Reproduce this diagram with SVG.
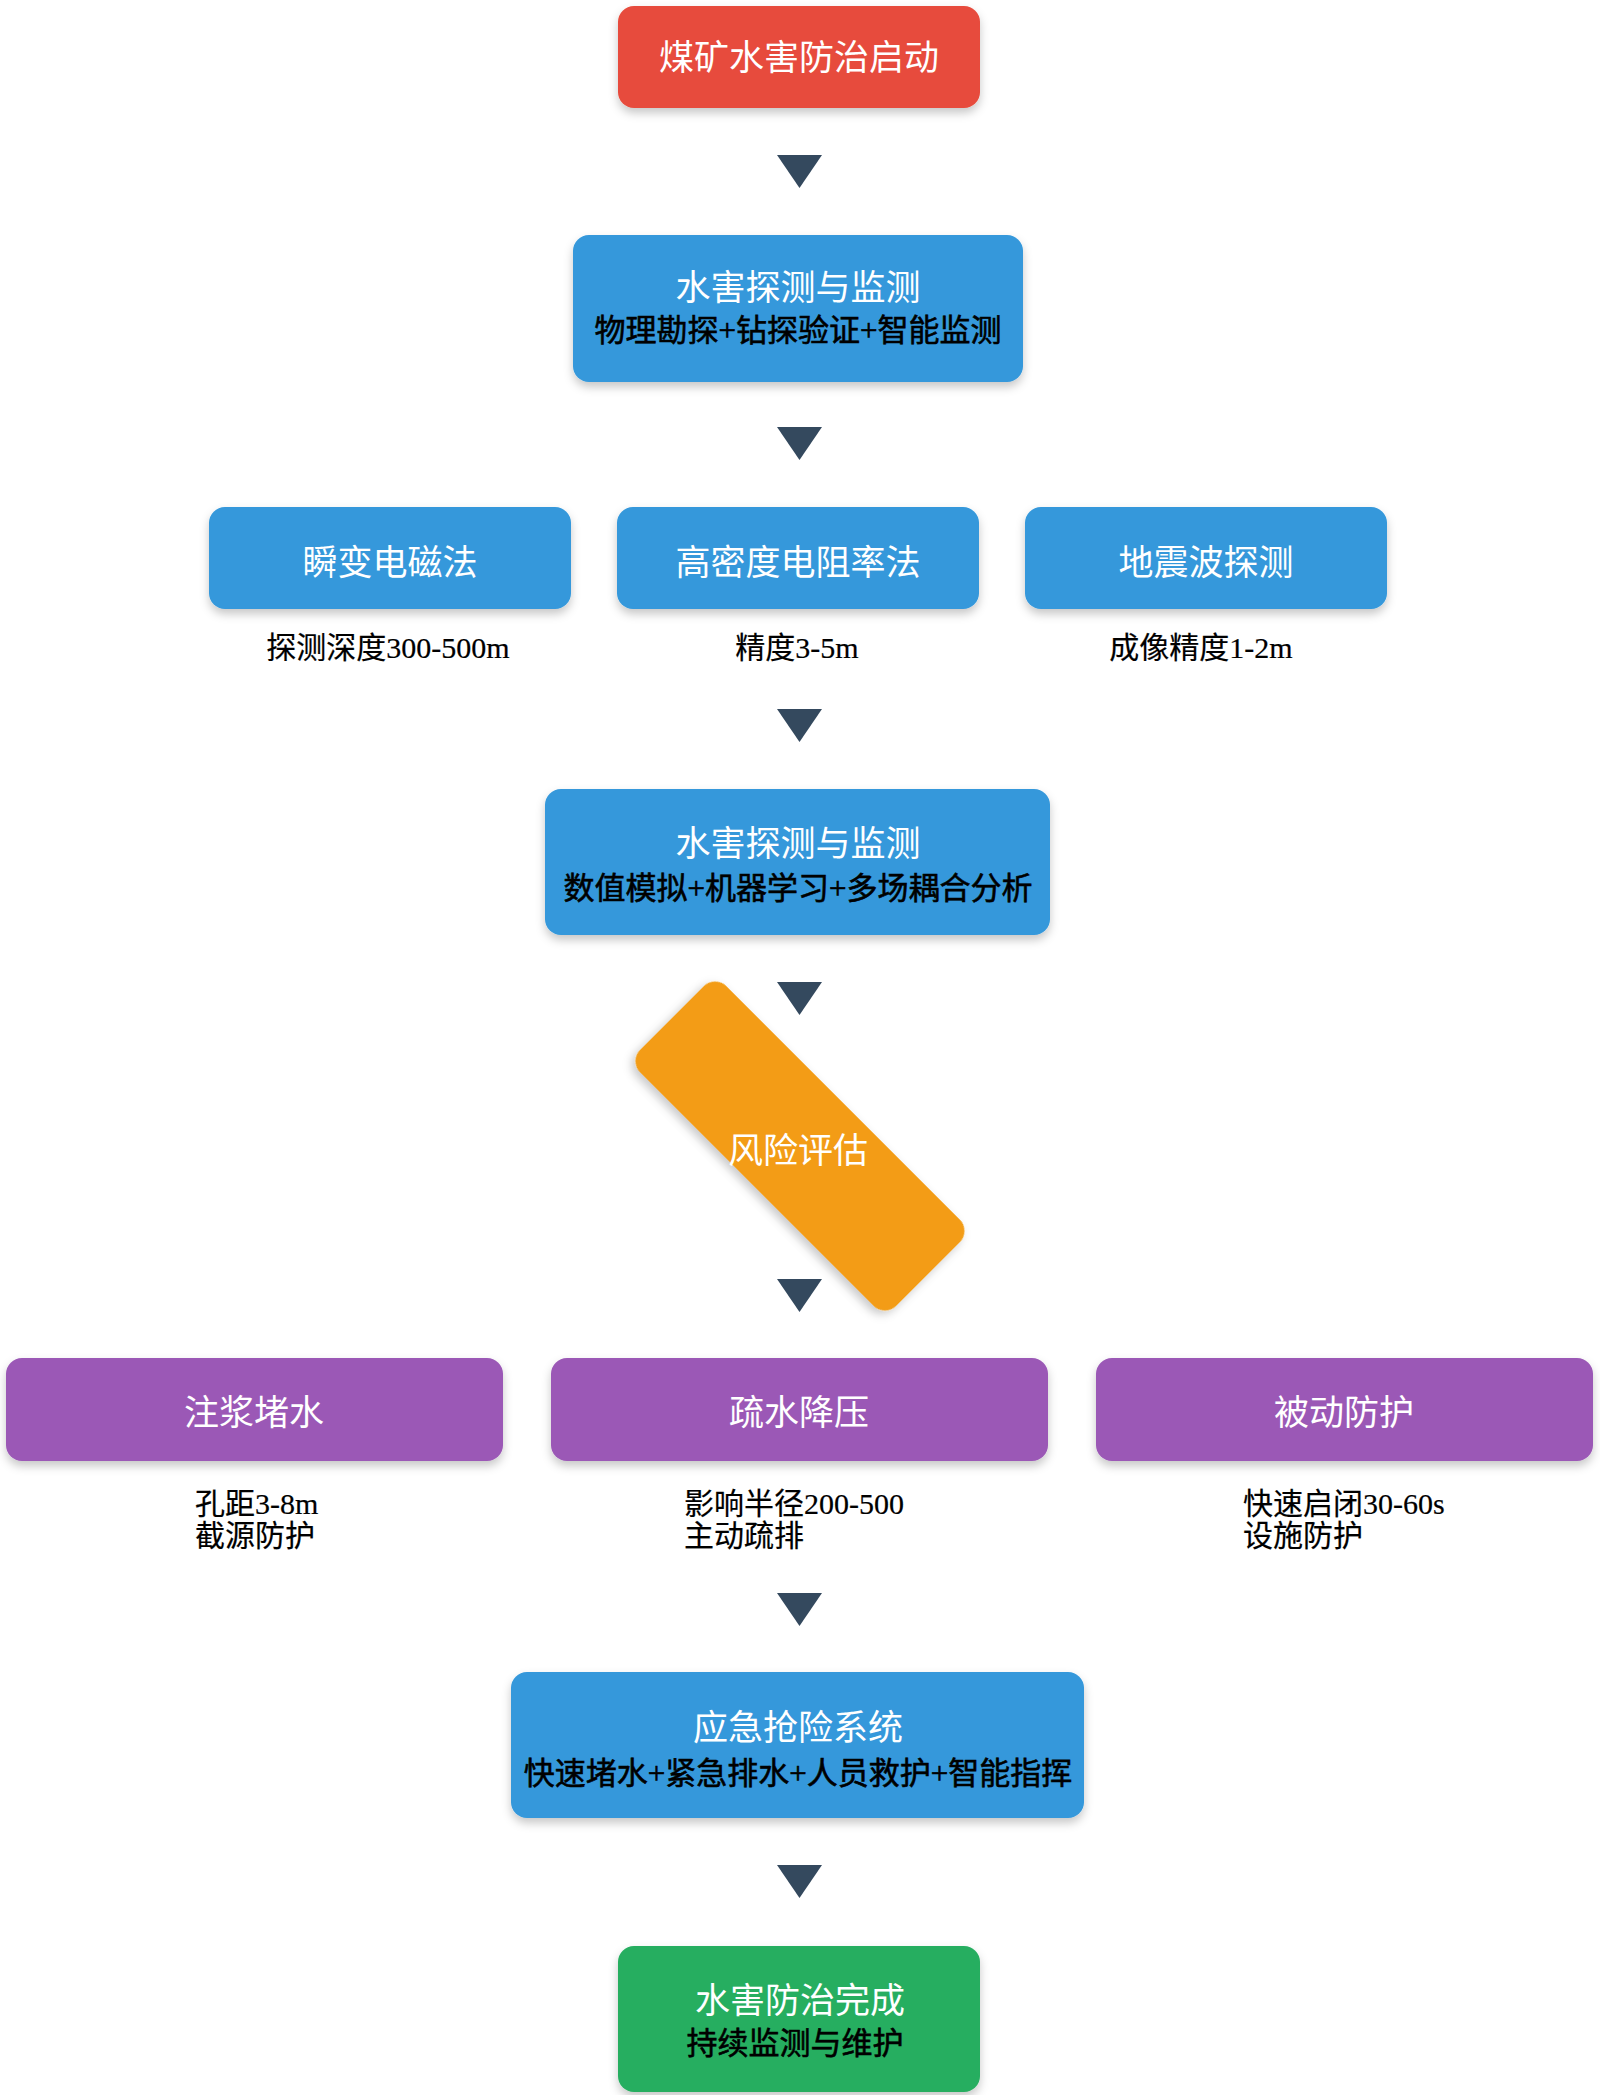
<svg xmlns="http://www.w3.org/2000/svg" width="1600" height="2095" viewBox="0 0 1600 2095">
<defs>
<filter id="sh" x="-10%" y="-20%" width="120%" height="150%">
<feDropShadow dx="0" dy="5" stdDeviation="5" flood-color="#000" flood-opacity="0.22"/>
</filter>
<style>
.red{fill:#e74c3c}
.blue{fill:#3498db}
.orange{fill:#f39c12}
.purple{fill:#9b59b6}
.green{fill:#27ae60}
.t{font-family:"Noto Sans CJK SC","Noto Sans",sans-serif;font-size:35px;fill:#ffffff;text-anchor:middle}
.s{font-family:"Liberation Serif","Noto Sans CJK SC",serif;font-size:31px;fill:#000000;text-anchor:middle;stroke:#000000;stroke-width:0.6px}
.l{font-family:"Liberation Serif","Noto Sans CJK SC",serif;font-size:30px;fill:#000000;stroke:#000000;stroke-width:0.2px}
.lc{text-anchor:middle}
.arr{fill:#34495e}
</style>
</defs>
<rect width="1600" height="2095" fill="#ffffff"/>

<g id="start">
<rect class="red" x="618" y="6" width="362" height="102" rx="16" filter="url(#sh)"/>
<text class="t" x="799" y="70">煤矿水害防治启动</text>
</g>

<g id="detect">
<rect class="blue" x="573" y="235" width="450" height="147" rx="16" filter="url(#sh)"/>
<text class="t" x="798" y="300">水害探测与监测</text>
<text class="s" x="798" y="341">物理勘探+钻探验证+智能监测</text>
</g>

<g id="tem">
<rect class="blue" x="209" y="507" width="362" height="102" rx="16" filter="url(#sh)"/>
<text class="t" x="390" y="575">瞬变电磁法</text>
<text class="l lc" x="388" y="658">探测深度300-500m</text>
</g>

<g id="ert">
<rect class="blue" x="617" y="507" width="362" height="102" rx="16" filter="url(#sh)"/>
<text class="t" x="798" y="575">高密度电阻率法</text>
<text class="l lc" x="797" y="658">精度3-5m</text>
</g>

<g id="seismic">
<rect class="blue" x="1025" y="507" width="362" height="102" rx="16" filter="url(#sh)"/>
<text class="t" x="1206" y="575">地震波探测</text>
<text class="l lc" x="1201" y="658">成像精度1-2m</text>
</g>

<g id="analysis">
<rect class="blue" x="545" y="789" width="505" height="146" rx="16" filter="url(#sh)"/>
<text class="t" x="798" y="856">水害探测与监测</text>
<text class="s" x="798" y="899">数值模拟+机器学习+多场耦合分析</text>
</g>

<g id="risk">
<rect class="orange" x="-181" y="-61" width="362" height="122" rx="16" transform="translate(800,1146) rotate(45)" filter="url(#sh)"/>
<text class="t" x="798" y="1163">风险评估</text>
</g>

<g id="grouting">
<rect class="purple" x="6" y="1358" width="497" height="103" rx="16" filter="url(#sh)"/>
<text class="t" x="254" y="1425">注浆堵水</text>
<text class="l" x="195" y="1514">孔距3-8m</text>
<text class="l" x="195" y="1546">截源防护</text>
</g>

<g id="drainage">
<rect class="purple" x="551" y="1358" width="497" height="103" rx="16" filter="url(#sh)"/>
<text class="t" x="799" y="1425">疏水降压</text>
<text class="l" x="684" y="1514">影响半径200-500</text>
<text class="l" x="684" y="1546">主动疏排</text>
</g>

<g id="passive">
<rect class="purple" x="1096" y="1358" width="497" height="103" rx="16" filter="url(#sh)"/>
<text class="t" x="1344" y="1425">被动防护</text>
<text class="l" x="1243" y="1514">快速启闭30-60s</text>
<text class="l" x="1243" y="1546">设施防护</text>
</g>

<g id="emergency">
<rect class="blue" x="511" y="1672" width="573" height="146" rx="16" filter="url(#sh)"/>
<text class="t" x="798" y="1740">应急抢险系统</text>
<text class="s" x="798" y="1784">快速堵水+紧急排水+人员救护+智能指挥</text>
</g>

<g id="done">
<rect class="green" x="618" y="1946" width="362" height="146" rx="16" filter="url(#sh)"/>
<text class="t" x="800" y="2013">水害防治完成</text>
<text class="s" x="795" y="2054">持续监测与维护</text>
</g>

<g id="connectors">
<polygon class="arr" points="777,155 822,155 799.5,188"/>
<polygon class="arr" points="777,427 822,427 799.5,460"/>
<polygon class="arr" points="777,709 822,709 799.5,742"/>
<polygon class="arr" points="777,982 822,982 799.5,1015"/>
<polygon class="arr" points="777,1279 822,1279 799.5,1312"/>
<polygon class="arr" points="777,1593 822,1593 799.5,1626"/>
<polygon class="arr" points="777,1865 822,1865 799.5,1898"/>
</g>
</svg>
